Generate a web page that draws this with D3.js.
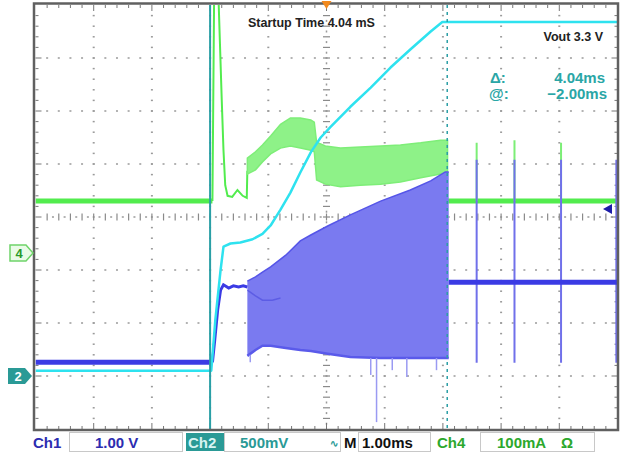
<!DOCTYPE html>
<html><head><meta charset="utf-8">
<script src="https://cdn.jsdelivr.net/npm/d3@7"></script>
<style>html,body{margin:0;padding:0;background:#fff;}svg{display:block}</style>
</head><body>
<svg id="c" width="620" height="454"></svg>
<script>
// ---------- data (time in ms, 1.00 ms/div) ----------
const timeDomain = [-5, 5];
const cursorA = -2.00;
const cursorDelta = 4.04;
// channel scales (units per div) and ground positions (div from centre)
const ch1Scale = 1.0,  ch1Ground = -3.0;   // V
const ch2Scale = 0.5,  ch2Ground = -3.0;   // V
const ch4Scale = 100,  ch4Ground = -0.68;  // mA

// Ch2 : Vout (cyan)  [t, V]
const voutTrace = [[-5,0.05],[-1.98,0.05],[-1.91,0.53],[-1.82,1.00],[-1.77,1.22],[-1.65,1.25],
  [-1.48,1.26],[-1.27,1.29],[-1.10,1.34],[-0.96,1.42],[-0.79,1.57],[-0.62,1.73],[-0.45,1.92],
  [-0.27,2.11],[-0.10,2.25],[0.07,2.35],[0.41,2.54],[0.76,2.72],[1.10,2.91],[1.44,3.08],
  [1.79,3.25],[1.99,3.34],[5,3.34]];

// Ch4 : input current (green)  [t, mA]
const iinBefore = [[-5,98],[-1.96,98]];
const iinSurge = [[-1.96,98],[-1.93,496],[-1.86,496],[-1.80,289],[-1.77,194],[-1.74,128],
  [-1.70,108],[-1.62,106],[-1.53,119],[-1.44,108],[-1.37,104],[-1.36,155]];
const iinBand = [[-1.36,149,179],[-1.22,157,191],[-1.10,172,204],[-0.96,187,221],[-0.79,198,243],
  [-0.62,202,255],[-0.45,198,255],[-0.27,194,251],[-0.21,191,247],[-0.17,138,209],[-0.02,130,202],
  [0.24,125,198],[0.58,128,200],[0.93,130,202],[1.27,134,204],[1.62,142,208],[1.96,149,213],[2.08,149,213]];
const iinAfter = [[2.08,98],[5,98]];
const iinSpikes = [[2.58,98,208],[3.23,98,213],[4.03,98,208]];

// Ch1 : switching / input voltage (blue)  [t, V]
const vinBefore = [[-5,0.26],[-1.96,0.26]];
const vinRise = [[-1.96,0.26],[-1.92,0.68],[-1.87,1.25],[-1.82,1.62],[-1.77,1.72],[-1.68,1.66],
  [-1.60,1.70],[-1.51,1.68],[-1.43,1.70],[-1.36,1.68]];
const vinBand = [[-1.36,0.38,1.79],[-1.22,0.49,1.87],[-1.10,0.57,1.96],[-0.96,0.57,2.06],
  [-0.70,0.53,2.28],[-0.45,0.49,2.55],[-0.27,0.47,2.66],[0.02,0.42,2.83],[0.41,0.36,3.04],
  [0.93,0.34,3.30],[1.44,0.34,3.51],[1.79,0.34,3.68],[2.04,0.34,3.85],[2.10,0.34,3.85]];
const vinGhost = [[-1.36,1.62],[-1.22,1.51],[-1.10,1.43],[-0.93,1.43],[-0.79,1.47]];
const vinAfter = [[2.10,1.77],[5,1.77]];
const vinSpikes = [[2.58,0.25,4.08],[3.23,0.25,4.08],[4.03,0.25,4.08],[4.98,0.25,4.08]];
const vinDrops = [[-1.31,0.26,0.40],[0.76,0.02,0.34],[0.86,-0.87,0.34],[1.13,0.11,0.34],[1.38,-0.02,0.34],[1.89,0.11,0.34]];

// labels
const titleText = "Startup Time 4.04 mS";
const voutText = "Vout 3.3 V";
const deltaLabel = ["\u0394:", "4.04ms"];
const atLabel = ["@:", "\u22122.00ms"];

// ---------- drawing ----------
const svg = d3.select("#c");
const X0 = 35.5, X1 = 617.5, Y0 = 5, Y1 = 429;
const x = d3.scaleLinear().domain(timeDomain).range([X0, X1]);
const yDiv = d3.scaleLinear().domain([-4, 4]).range([Y1, Y0]);
const y1 = v => yDiv(v / ch1Scale + ch1Ground);
const y2 = v => yDiv(v / ch2Scale + ch2Ground);
const y4 = v => yDiv(v / ch4Scale + ch4Ground);
const divW = (X1 - X0) / 10, divH = (Y1 - Y0) / 8;

svg.append("rect").attr("width",620).attr("height",454).attr("fill","#fff");
svg.append("defs").append("clipPath").attr("id","scr")
  .append("rect").attr("x",X0).attr("y",Y0).attr("width",X1-X0).attr("height",Y1-Y0);

// grid
const g = svg.append("g");
const gridCol = "#9a9a9a";
for (let k = 1; k < 8; k++) {
  if (k === 4) continue;
  const yy = Y0 + k*divH;
  for (let j = 1; j < 50; j++) g.append("rect").attr("x", X0 + j*divW/5 - 1).attr("y", yy-0.75).attr("width",2).attr("height",1.5).attr("fill",gridCol);
}
for (let k = 1; k < 10; k++) {
  if (k === 5) continue;
  const xx = X0 + k*divW;
  for (let j = 1; j < 40; j++) g.append("rect").attr("x", xx-1).attr("y", Y0 + j*divH/5 - 0.75).attr("width",2).attr("height",1.5).attr("fill",gridCol);
}
// centre axes with ticks
const cy = Y0 + 4*divH, cx = X0 + 5*divW;
for (let j = 1; j < 50; j++) {
  const xx = X0 + j*divW/5;
  g.append("line").attr("x1",xx).attr("x2",xx).attr("y1",cy-3.5).attr("y2",cy+3.5).attr("stroke","#8a8a8a").attr("stroke-width",1.2);
  g.append("rect").attr("x", xx + divW/10 - 1).attr("y", cy-0.75).attr("width",2).attr("height",1.5).attr("fill",gridCol);
}
for (let j = 1; j < 40; j++) {
  const yy = Y0 + j*divH/5;
  g.append("line").attr("x1",cx-3.5).attr("x2",cx+3.5).attr("y1",yy).attr("y2",yy).attr("stroke","#8a8a8a").attr("stroke-width",1.2);
  g.append("rect").attr("x", cx-0.75).attr("y", yy + divH/10 - 1).attr("width",1.5).attr("height",2).attr("fill",gridCol);
}
// border ticks
for (let j = 1; j < 50; j++) {
  const xx = X0 + j*divW/5, L = (j%5===0)?6:3;
  g.append("line").attr("x1",xx).attr("x2",xx).attr("y1",Y0).attr("y2",Y0+L).attr("stroke","#777");
  g.append("line").attr("x1",xx).attr("x2",xx).attr("y1",Y1).attr("y2",Y1-L).attr("stroke","#777");
}
for (let j = 1; j < 40; j++) {
  const yy = Y0 + j*divH/5, L = (j%5===0)?6:3;
  g.append("line").attr("x1",X0).attr("x2",X0+L).attr("y1",yy).attr("y2",yy).attr("stroke","#777");
  g.append("line").attr("x1",X1).attr("x2",X1-L).attr("y1",yy).attr("y2",yy).attr("stroke","#777");
}

// traces
const tr = svg.append("g").attr("clip-path","url(#scr)");
const line = (yf) => d3.line().x(d => x(d[0])).y(d => yf(d[1]));
const area = (yf) => d3.area().x(d => x(d[0])).y0(d => yf(d[1])).y1(d => yf(d[2]));

const GREEN = "#52ec4e", GREENF = "#8ef288", BLUE = "#3b3be4", BLUEF = "#7a7af0", CYAN = "#2ee2ef", TEAL = "#2a9fa6";

// Ch4 green
tr.append("path").datum(iinBefore).attr("d", line(y4)).attr("fill","none").attr("stroke",GREEN).attr("stroke-width",5);
tr.append("path").datum(iinSurge).attr("d", line(y4)).attr("fill","none").attr("stroke",GREEN).attr("stroke-width",2);
tr.append("path").datum(iinBand).attr("d", area(y4)).attr("fill",GREENF).attr("stroke","#7eee78").attr("stroke-width",1.5);
tr.append("path").datum(iinAfter).attr("d", line(y4)).attr("fill","none").attr("stroke",GREEN).attr("stroke-width",5);
tr.selectAll(".gs").data(iinSpikes).enter().append("line")
  .attr("x1",d=>x(d[0])).attr("x2",d=>x(d[0])).attr("y1",d=>y4(d[1])).attr("y2",d=>y4(d[2]))
  .attr("stroke","#7cee76").attr("stroke-width",2);

// Ch1 blue
tr.append("path").datum(vinBand).attr("d", area(y1)).attr("fill",BLUEF).attr("stroke","none");
tr.append("path").datum(vinBand.map(d=>[d[0],d[1]])).attr("d", line(y1)).attr("fill","none").attr("stroke","#5a5aea").attr("stroke-width",2.5);
tr.append("path").datum(vinBand.map(d=>[d[0],d[2]])).attr("d", line(y1)).attr("fill","none").attr("stroke","#5555e8").attr("stroke-width",1.5);
tr.append("path").datum(vinGhost).attr("d", line(y1)).attr("fill","none").attr("stroke","#5050e0").attr("stroke-width",1.5).attr("opacity",0.7);
tr.selectAll(".bd").data(vinDrops).enter().append("line")
  .attr("x1",d=>x(d[0])).attr("x2",d=>x(d[0])).attr("y1",d=>y1(d[1])).attr("y2",d=>y1(d[2]))
  .attr("stroke","#9a9af2").attr("stroke-width",1.5);
tr.selectAll(".bs").data(vinSpikes).enter().append("line")
  .attr("x1",d=>x(d[0])).attr("x2",d=>x(d[0])).attr("y1",d=>y1(d[1])).attr("y2",d=>y1(d[2]))
  .attr("stroke","#7070ea").attr("stroke-width",2);
tr.append("path").datum(vinBefore).attr("d", line(y1)).attr("fill","none").attr("stroke",BLUE).attr("stroke-width",5);
tr.append("path").datum(vinRise).attr("d", line(y1)).attr("fill","none").attr("stroke",BLUE).attr("stroke-width",3);
tr.append("path").datum(vinAfter).attr("d", line(y1)).attr("fill","none").attr("stroke",BLUE).attr("stroke-width",5);

// Ch2 cyan
tr.append("path").datum(voutTrace).attr("d", line(y2)).attr("fill","none").attr("stroke",CYAN).attr("stroke-width",2.5).attr("stroke-linejoin","round");

// cursors
svg.append("line").attr("x1",x(cursorA)).attr("x2",x(cursorA)).attr("y1",Y0).attr("y2",Y1+1).attr("stroke",TEAL).attr("stroke-width",2);
svg.append("line").attr("x1",x(cursorA+cursorDelta)+2).attr("x2",x(cursorA+cursorDelta)+2).attr("y1",Y0).attr("y2",Y1)
  .attr("stroke",TEAL).attr("stroke-width",1.5).attr("stroke-dasharray","3,4");

// border
svg.append("rect").attr("x",X0-1.5).attr("y",Y0-1.5).attr("width",X1-X0+2).attr("height",Y1-Y0+2.5)
  .attr("fill","none").attr("stroke","#606060").attr("stroke-width",2.5);

// markers
svg.append("path").attr("d",`M${cx-5},1 L${cx+5},1 L${cx},9 Z`).attr("fill","#f28a1e");
svg.append("path").attr("d",`M603,209 L612,204 L612,214 Z`).attr("fill","#1c1ca8");
const m4y = y4(0);
svg.append("path").attr("d",`M10,${m4y-8} L26,${m4y-8} L33,${m4y} L26,${m4y+8} L10,${m4y+8} Z`)
  .attr("fill","#eafbe8").attr("stroke","#6fd46a").attr("stroke-width",1.5);
svg.append("text").attr("x",19).attr("y",m4y+5).attr("text-anchor","middle").attr("font-family","Liberation Sans, Arial").attr("font-weight","bold").attr("font-size",13).attr("fill","#2a9a2a").text("4");
const m2y = y2(0);
svg.append("path").attr("d",`M8,${m2y-8} L25,${m2y-8} L32,${m2y} L25,${m2y+8} L8,${m2y+8} Z`).attr("fill","#2a9a96");
svg.append("text").attr("x",18).attr("y",m2y+5).attr("text-anchor","middle").attr("font-family","Liberation Sans, Arial").attr("font-weight","bold").attr("font-size",13).attr("fill","#fff").text("2");

// texts
const F = "Liberation Sans, Arial, sans-serif";
svg.append("text").attr("x",248).attr("y",27).attr("font-family",F).attr("font-weight","bold").attr("font-size",12.5).attr("fill","#222").text(titleText);
svg.append("text").attr("x",603).attr("y",41).attr("text-anchor","end").attr("font-family",F).attr("font-weight","bold").attr("font-size",12.5).attr("fill","#222").text(voutText);
const CT = "#2aa6a6";
svg.append("text").attr("x",490).attr("y",83).attr("font-family",F).attr("font-size",15).attr("font-weight","bold").attr("fill",CT).text(deltaLabel[0]);
svg.append("text").attr("x",605).attr("y",83).attr("text-anchor","end").attr("font-family",F).attr("font-size",15).attr("font-weight","bold").attr("fill",CT).text(deltaLabel[1]);
svg.append("text").attr("x",489).attr("y",99).attr("font-family",F).attr("font-size",15).attr("font-weight","bold").attr("fill",CT).text(atLabel[0]);
svg.append("text").attr("x",607).attr("y",99).attr("text-anchor","end").attr("font-family",F).attr("font-size",15).attr("font-weight","bold").attr("fill",CT).text(atLabel[1]);

// status bar
const sb = svg.append("g").attr("font-family",F).attr("font-weight","bold").attr("font-size",15);
const boxes = [[69,182],[224,340],[358,430],[480,594]];
boxes.forEach(b => sb.append("rect").attr("x",b[0]+0.5).attr("y",432.5).attr("width",b[1]-b[0]).attr("height",19).attr("fill","none").attr("stroke","#c8c8c8"));
sb.append("rect").attr("x",186).attr("y",433).attr("width",38).attr("height",18).attr("fill","#2a9a96");
const BL = 448;
sb.append("text").attr("x",33).attr("y",BL).attr("fill","#2c2cb0").text("Ch1");
sb.append("text").attr("x",95).attr("y",BL).attr("fill","#2c2cb0").text("1.00 V");
sb.append("text").attr("x",188).attr("y",BL).attr("fill","#d8f4f2").text("Ch2");
sb.append("text").attr("x",240).attr("y",BL).attr("fill","#2a9a96").text("500mV");
sb.append("text").attr("x",330).attr("y",BL-1).attr("fill","#2a9a96").attr("font-size",10).text("\u223F");
sb.append("text").attr("x",344).attr("y",BL).attr("fill","#111").text("M");
sb.append("text").attr("x",362).attr("y",BL).attr("fill","#111").text("1.00ms");
sb.append("text").attr("x",437).attr("y",BL).attr("fill","#2ca82c").text("Ch4");
sb.append("text").attr("x",497).attr("y",BL).attr("fill","#2ca82c").text("100mA");
sb.append("text").attr("x",561).attr("y",BL).attr("fill","#2ca82c").text("\u03A9");
</script>
</body></html>
